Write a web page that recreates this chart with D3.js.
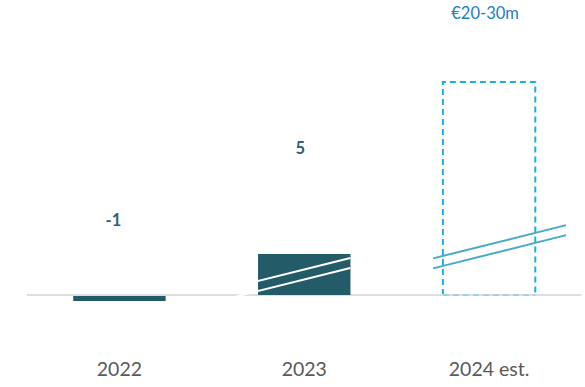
<!DOCTYPE html>
<html>
<head>
<meta charset="utf-8">
<script src="https://cdn.jsdelivr.net/npm/d3@7"></script>
<style>
  html, body { margin: 0; padding: 0; background: #fff; }
  svg { display: block; }
  text { font-family: Lato, "Open Sans", sans-serif; }
</style>
</head>
<body>
<svg id="chart" width="585" height="387"></svg>
<script>
// EBITDA-style bar chart: two actual years and an estimated range
const categories = ["2022", "2023", "2024 est."];
const actualValues = [-1, 5, null];
const valueLabels = ["-1", "5", "€20-30m"];
const estimateRange = [20, 30];   // € millions, drawn as a dashed outline

const W = 585, H = 387;
const svg = d3.select("#chart");

const x = d3.scaleBand()
  .domain(categories)
  .range([27, 581.5])
  .paddingInner(0.5)
  .paddingOuter(0.25);

// Broken axis: small values get more room than the estimate above the break
const y = d3.scaleLinear()
  .domain([-1, 0, 5, 30])
  .range([301, 295, 254, 82]);

const dark = "#245b69";
const bright = "#19b2e0";
const breakBlue = "#48a9c9";

// estimate outline (sides + top), bottom edge faint along the axis
const est = categories[2];
const ex0 = x(est), ex1 = x(est) + x.bandwidth();
const eTop = y(estimateRange[1]), eBot = y(0);
svg.append("path")
  .attr("d", `M${ex0},${eBot} L${ex0},${eTop} L${ex1},${eTop} L${ex1},${eBot}`)
  .attr("fill", "none")
  .attr("stroke", bright)
  .attr("stroke-width", 2)
  .attr("stroke-dasharray", "6,4");

// baseline
svg.append("line")
  .attr("x1", x.range()[0]).attr("x2", x.range()[1])
  .attr("y1", y(0)).attr("y2", y(0))
  .attr("stroke", "#dedede")
  .attr("stroke-width", 2);

svg.append("line")
  .attr("x1", ex0).attr("x2", ex1)
  .attr("y1", eBot).attr("y2", eBot)
  .attr("stroke", bright)
  .attr("stroke-opacity", 0.3)
  .attr("stroke-width", 2)
  .attr("stroke-dasharray", "6,4");

// actual bars
const actual = categories.map((c, i) => ({ c, v: actualValues[i] })).filter(d => d.v != null);
svg.selectAll("rect.bar")
  .data(actual)
  .join("rect")
  .attr("class", "bar")
  .attr("x", d => x(d.c))
  .attr("width", x.bandwidth())
  .attr("y", d => d.v >= 0 ? y(d.v) : y(0) + 1)
  .attr("height", d => d.v >= 0 ? y(0) - y(d.v) : y(d.v) - y(0) - 1)
  .attr("fill", dark);

// scale-break marks: pairs of parallel slanted strokes
function breakMark(cat, midY, left, right, color) {
  const cx = x(cat) + x.bandwidth() / 2;
  const slope = 0.25;
  const x0 = cx - left, x1 = cx + right;
  [-5, 5].forEach(off => {
    svg.append("line")
      .attr("x1", x0).attr("y1", midY + off + left * slope)
      .attr("x2", x1).attr("y2", midY + off - right * slope)
      .attr("stroke", color)
      .attr("stroke-width", 2);
  });
}
breakMark(categories[1], 274.5, 68, 46, "#ffffff");
breakMark(categories[2], 249.4, 56, 77, breakBlue);

// value labels
const labelBaseline = [226, 154, 19];
const labelShift = [-6, -4, -4];
svg.selectAll("text.val")
  .data(categories)
  .join("text")
  .attr("class", "val")
  .attr("x", (d, i) => x(d) + x.bandwidth() / 2 + labelShift[i])
  .attr("y", (d, i) => labelBaseline[i])
  .attr("text-anchor", "middle")
  .attr("font-size", (d, i) => i === 2 ? 16.5 : 16.5)
  .attr("font-weight", (d, i) => i === 2 ? 400 : 700)
  .attr("fill", (d, i) => i === 2 ? "#1b7fc4" : "#2f6172")
  .text((d, i) => valueLabels[i]);

// category axis
const xAxis = svg.append("g")
  .attr("transform", `translate(0,${y(0)})`)
  .call(d3.axisBottom(x).tickSize(0).tickPadding(67));
xAxis.select(".domain").remove();
xAxis.selectAll("text")
  .attr("font-size", 19.5)
  .attr("fill", "#595959")
  .style("font-family", "Lato, 'Open Sans', sans-serif");
</script>
</body>
</html>
